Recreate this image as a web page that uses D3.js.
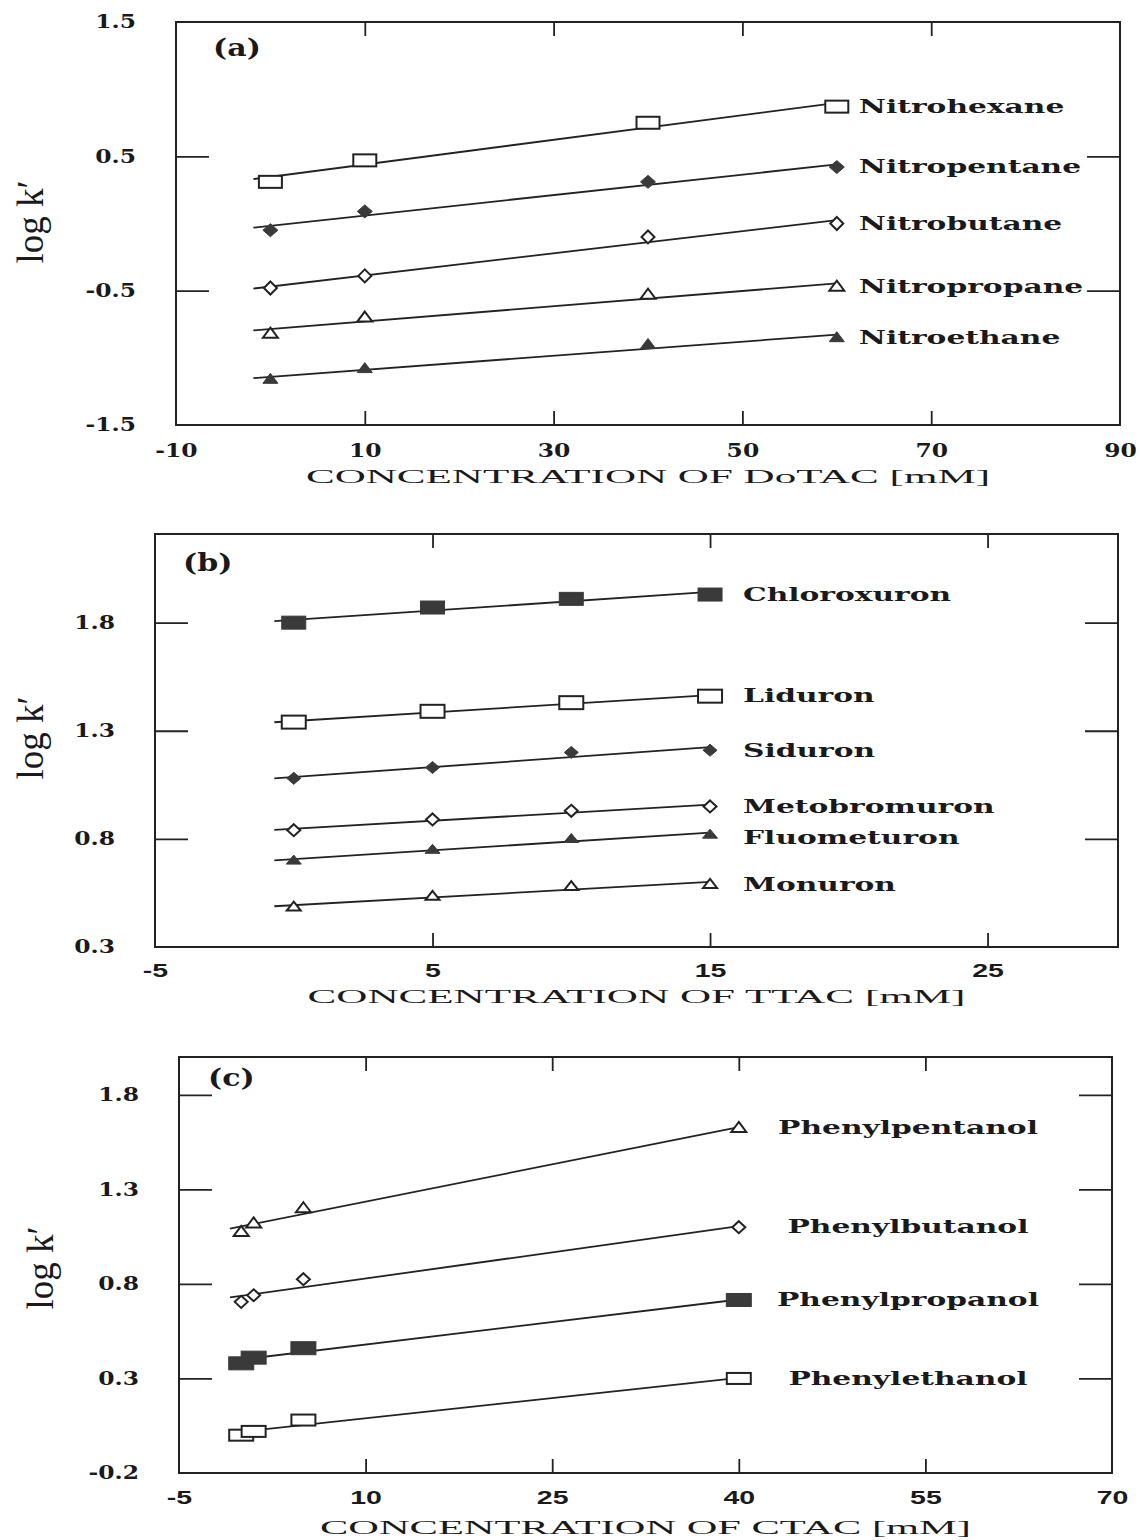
<!DOCTYPE html>
<html lang="en">
<head>
<meta charset="UTF-8">
<title>log k' vs surfactant concentration</title>
<script src="https://d3js.org/d3.v7.min.js"></script>
<style>
    body { margin: 0; background: #fff; }
    .tick-label { font-family: "DejaVu Serif", serif; font-weight: bold; font-size: 18px; fill: #1a1a1a; }
    .tick-sans { font-family: "Liberation Sans", Arial, sans-serif; font-weight: bold; font-size: 19px; fill: #1a1a1a; }
    .series-label { font-family: "DejaVu Serif", serif; font-weight: bold; font-size: 18px; fill: #1a1a1a; }
    .axis-title { font-family: "Liberation Serif", serif; font-size: 19px; fill: #1a1a1a; }
    .ylab { font-family: "Liberation Serif", serif; font-size: 37px; fill: #1a1a1a; }
    .panel-tag { font-family: "DejaVu Serif", serif; font-weight: bold; font-size: 24px; fill: #1a1a1a; }
</style>
</head>
<body>
<svg id="fig" width="1140" height="1540"></svg>
<script>
// panel (a): DoTAC
const xDoTAC = [0, 10, 40, 60];
const namesA = ["Nitrohexane", "Nitropentane", "Nitrobutane", "Nitropropane", "Nitroethane"];
const nitrohexane = [0.31, 0.47, 0.75, 0.87];
const nitropentane = [-0.05, 0.09, 0.31, 0.42];
const nitrobutane = [-0.48, -0.39, -0.10, 0.00];
const nitropropane = [-0.82, -0.70, -0.53, -0.47];
const nitroethane = [-1.16, -1.08, -0.90, -0.85];
const yTicksA = [-1.5, -0.5, 0.5, 1.5];
const xTicksA = [-10, 10, 30, 50, 70, 90];

// panel (b): TTAC
const xTTAC = [0, 5, 10, 15];
const namesB = ["Chloroxuron", "Liduron", "Siduron", "Metobromuron", "Fluometuron", "Monuron"];
const chloroxuron = [1.80, 1.87, 1.91, 1.93];
const liduron = [1.34, 1.39, 1.43, 1.46];
const siduron = [1.08, 1.13, 1.20, 1.21];
const metobromuron = [0.84, 0.89, 0.93, 0.95];
const fluometuron = [0.70, 0.75, 0.80, 0.82];
const monuron = [0.485, 0.535, 0.58, 0.59];
const yTicksB = [0.3, 0.8, 1.3, 1.8];
const xTicksB = [-5, 5, 15, 25];

// panel (c): CTAC
const xCTAC = [0, 1, 5, 40];
const namesC = ["Phenylpentanol", "Phenylbutanol", "Phenylpropanol", "Phenylethanol"];
const phenylpentanol = [1.075, 1.12, 1.20, 1.625];
const phenylbutanol = [0.705, 0.74, 0.825, 1.10];
const phenylpropanol = [0.38, 0.41, 0.46, 0.715];
const phenylethanol = [0.00, 0.02, 0.08, 0.30];
const yTicksC = [-0.2, 0.3, 0.8, 1.3, 1.8];
const xTicksC = [-5, 10, 25, 40, 55, 70];

const svg = d3.select("#fig");
const ink = "#222";

// marker shapes, w x h in px
function marker(g, kind, w, h) {
    const filled = kind.startsWith("f");
    const shape = kind.slice(1);
    let p;
    if (shape === "sq") {
        p = g.append("rect").attr("x", -w / 2).attr("y", -h / 2).attr("width", w).attr("height", h);
    } else if (shape === "di") {
        p = g.append("path").attr("d", `M0,${-h / 2}L${w / 2},0L0,${h / 2}L${-w / 2},0Z`);
    } else {
        p = g.append("path").attr("d", `M0,${-h * 0.6}L${w / 2},${h * 0.4}L${-w / 2},${h * 0.4}Z`);
    }
    p.attr("fill", filled ? "#3a3a3a" : "#fff")
     .attr("stroke", filled ? "#3a3a3a" : ink)
     .attr("stroke-width", filled ? 1 : 2);
}

function fit(xs, ys) {
    const mx = d3.mean(xs), my = d3.mean(ys);
    const sxy = d3.sum(xs, (x, i) => (x - mx) * (ys[i] - my));
    const sxx = d3.sum(xs, x => (x - mx) * (x - mx));
    const b = sxy / sxx;
    return x => my + b * (x - mx);
}

function stretch(sel, k) {
    sel.each(function () {
        const len = this.getComputedTextLength();
        d3.select(this).attr("textLength", len * k).attr("lengthAdjust", "spacingAndGlyphs");
    });
}

function drawPanel(cfg) {
    const x = d3.scaleLinear().domain(cfg.xDomain).range([cfg.left, cfg.right]);
    const y = d3.scaleLinear().domain(cfg.yDomain).range([cfg.bottom, cfg.top]);
    const g = svg.append("g");

    g.append("rect")
        .attr("x", cfg.left).attr("y", cfg.top)
        .attr("width", cfg.right - cfg.left).attr("height", cfg.bottom - cfg.top)
        .attr("fill", "none").attr("stroke", ink).attr("stroke-width", 2);

    // inner tick marks
    const inner = v => v > cfg.xDomain[0] && v < cfg.xDomain[1];
    const innerY = v => v > cfg.yDomain[0] && v < cfg.yDomain[1];
    const xt = cfg.xTicks.filter(inner), yt = cfg.yTicks.filter(innerY);
    const marks = [
        [d3.axisBottom(x).tickValues(xt).tickSize(-14), `translate(0,${cfg.bottom})`],
        [d3.axisTop(x).tickValues(xt).tickSize(-14), `translate(0,${cfg.top})`],
        [d3.axisLeft(y).tickValues(yt).tickSize(-33), `translate(${cfg.left},0)`],
        [d3.axisRight(y).tickValues(yt).tickSize(-33), `translate(${cfg.right},0)`]
    ];
    marks.forEach(([ax, tr]) => {
        const a = g.append("g").attr("transform", tr).call(ax.tickFormat(""));
        a.select(".domain").remove();
        a.selectAll("line").attr("stroke", ink).attr("stroke-width", 1.8);
    });

    // tick labels
    const xl = g.append("g").attr("transform", `translate(0,${cfg.bottom})`)
        .call(d3.axisBottom(x).tickValues(cfg.xTicks).tickSize(0).tickPadding(cfg.xPad).tickFormat(d => String(d)));
    xl.select(".domain").remove();
    xl.selectAll("text").attr("class", cfg.xFont).attr("fill", null).attr("font-family", null).attr("font-size", null);
    stretch(xl.selectAll("text"), cfg.xTickK);

    const yl = g.append("g").attr("transform", `translate(${cfg.left},0)`)
        .call(d3.axisLeft(y).tickValues(cfg.yTicks).tickSize(0).tickPadding(40).tickFormat(d => d.toFixed(1)));
    yl.select(".domain").remove();
    yl.selectAll("text").attr("class", "tick-label").attr("fill", null).attr("font-family", null).attr("font-size", null);
    stretch(yl.selectAll("text"), 1.3);

    // titles
    g.append("text").attr("class", "axis-title")
        .attr("x", (cfg.left + cfg.right) / 2).attr("y", cfg.titleY)
        .attr("text-anchor", "middle").text(cfg.title)
        .attr("textLength", cfg.titleLen).attr("lengthAdjust", "spacingAndGlyphs");

    g.append("text").attr("class", "ylab")
        .attr("transform", `translate(${cfg.ylabX},${cfg.ylabY}) rotate(-90)`)
        .attr("text-anchor", "middle").attr("dy", "0.3em")
        .text("log k\u2032");

    const tag = g.append("text").attr("class", "panel-tag")
        .attr("x", cfg.left + cfg.tagDx).attr("y", cfg.top + cfg.tagDy)
        .attr("dy", "0.35em").text(cfg.tag);
    stretch(tag, 1.25);

    // series
    cfg.series.forEach(s => {
        const f = fit(cfg.xs, s.values);
        const x0 = cfg.lineStart, x1 = d3.max(cfg.xs);
        g.append("path")
            .datum([x0, x1])
            .attr("d", d3.line().x(d => x(d)).y(d => y(f(d))))
            .attr("fill", "none").attr("stroke", ink).attr("stroke-width", 1.8);

        s.values.forEach((v, j) => {
            const m = g.append("g").attr("transform", `translate(${x(cfg.xs[j])},${y(v)})`);
            marker(m, s.marker, s.w, s.h);
        });

        const last = s.values[s.values.length - 1];
        const lx = cfg.labelAnchor === "middle" ? cfg.labelX : x(x1) + cfg.labelDx;
        const lab = g.append("text").attr("class", "series-label")
            .attr("x", lx).attr("y", y(last) + (s.dy || 0))
            .attr("dy", "0.35em").attr("text-anchor", cfg.labelAnchor)
            .text(s.name);
        stretch(lab, cfg.labelK);
    });
}

drawPanel({
    left: 176, right: 1120, top: 22, bottom: 425,
    xDomain: [-10, 90], yDomain: [-1.5, 1.5],
    xTicks: xTicksA, yTicks: yTicksA, xFont: "tick-label", xTickK: 1.3, xPad: 19,
    title: "CONCENTRATION  OF  DoTAC  [mM]", titleY: 483, titleLen: 684,
    ylabX: 32, ylabY: 222, tag: "(a)", tagDx: 37, tagDy: 26,
    xs: xDoTAC, lineStart: -1.8, labelDx: 22, labelAnchor: "start", labelK: 1.65,
    series: [
        { name: namesA[0], values: nitrohexane, marker: "osq", w: 23, h: 12 },
        { name: namesA[1], values: nitropentane, marker: "fdi", w: 15, h: 13 },
        { name: namesA[2], values: nitrobutane, marker: "odi", w: 13, h: 13 },
        { name: namesA[3], values: nitropropane, marker: "otr", w: 15, h: 10 },
        { name: namesA[4], values: nitroethane, marker: "ftr", w: 15, h: 10 }
    ]
});

drawPanel({
    left: 155, right: 1118, top: 534, bottom: 947,
    xDomain: [-5, 29.7], yDomain: [0.3, 2.21],
    xTicks: xTicksB, yTicks: yTicksB, xFont: "tick-sans", xTickK: 1.5, xPad: 17,
    title: "CONCENTRATION  OF  TTAC  [mM]", titleY: 1003, titleLen: 658,
    ylabX: 32, ylabY: 738, tag: "(b)", tagDx: 28, tagDy: 29,
    xs: xTTAC, lineStart: -0.7, labelDx: 33, labelAnchor: "start", labelK: 1.65,
    series: [
        { name: namesB[0], values: chloroxuron, marker: "fsq", w: 24, h: 13 },
        { name: namesB[1], values: liduron, marker: "osq", w: 24, h: 13 },
        { name: namesB[2], values: siduron, marker: "fdi", w: 14, h: 12 },
        { name: namesB[3], values: metobromuron, marker: "odi", w: 13, h: 12 },
        { name: namesB[4], values: fluometuron, marker: "ftr", w: 15, h: 9, dy: 3 },
        { name: namesB[5], values: monuron, marker: "otr", w: 14, h: 9 }
    ]
});

drawPanel({
    left: 179, right: 1112, top: 1057, bottom: 1473,
    xDomain: [-5, 70], yDomain: [-0.2, 2.0],
    xTicks: xTicksC, yTicks: yTicksC, xFont: "tick-sans", xTickK: 1.5, xPad: 18,
    title: "CONCENTRATION  OF  CTAC  [mM]", titleY: 1534, titleLen: 651,
    ylabX: 42, ylabY: 1268, tag: "(c)", tagDx: 29, tagDy: 21,
    xs: xCTAC, lineStart: -0.9, labelX: 908, labelAnchor: "middle", labelK: 1.65,
    series: [
        { name: namesC[0], values: phenylpentanol, marker: "otr", w: 15, h: 10 },
        { name: namesC[1], values: phenylbutanol, marker: "odi", w: 13, h: 12 },
        { name: namesC[2], values: phenylpropanol, marker: "fsq", w: 25, h: 13 },
        { name: namesC[3], values: phenylethanol, marker: "osq", w: 24, h: 11 }
    ]
});
</script>
</body>
</html>
